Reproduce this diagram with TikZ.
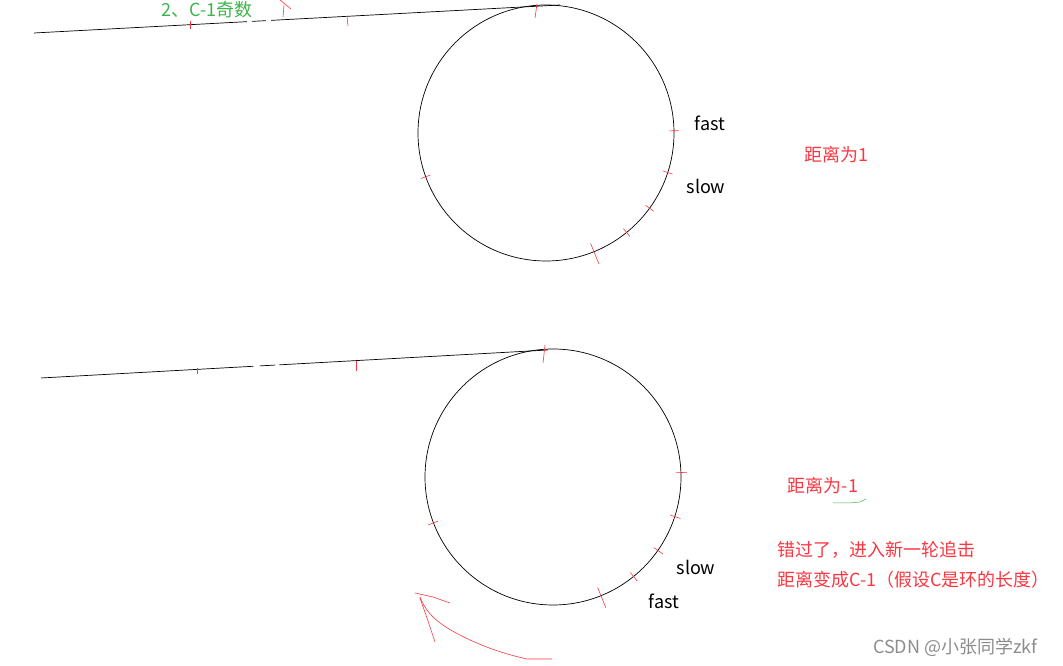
\documentclass[tikz,border=0pt]{standalone}
\usepackage{fontspec}
\setmainfont{Noto Sans CJK SC}
\usetikzlibrary{calc}
\tikzset{
  loop/.style={line width=0.7pt, black},
  redtick/.style={penred, line width=0.6pt},
  note/.style={font=\fontsize{18}{21}\selectfont, inner sep=0pt},
}
\begin{document}
\begin{tikzpicture}[x=1pt, y=1pt]
  \useasboundingbox (0,0) rectangle (1063,666);
  \definecolor{penred}  {RGB}{250,55,65}
  \definecolor{pengreen}{RGB}{60,180,75}

  % Upper picture: tail and loop
  \coordinate (c1) at (546,533);
  \coordinate (t1a) at (34,633);
  \coordinate (t1b) at (560,661);
  \draw[loop] (t1a) -- ($(t1a)!0.405!(t1b)$);
  \draw[loop] ($(t1a)!0.414!(t1b)$) -- ($(t1a)!0.441!(t1b)$);
  \draw[loop] ($(t1a)!0.451!(t1b)$) -- (t1b);
  \draw[loop] (c1) circle (128);
  % Ticks on the tail
  \draw[redtick] (190,637) -- (190,645);
  \draw[redtick] (348,640) -- (347,650);
  \draw[redtick] (537,662) -- (535,648);
  \draw[redtick] (280,666) -- (291,657);
  \draw[redtick] (284,661) -- (283,649);
  % Ticks on the loop
  \foreach \a in {1,-18,-36,-51,200}
    \draw[redtick] (c1) ++(\a:123) -- ++(\a:10);
  \draw[redtick] (c1) ++(-68:119) -- ++(-68:22);

  \node[note, pengreen] (odd) at (207,656) {2、C-1奇数};
  \node[note] (fast1) at (710,543) {fast};
  \node[note] (slow1) at (706,480) {slow};
  \node[note, penred] (dist1) at (836,511) {距离为1};

  % Lower picture: tail and loop
  \coordinate (c2) at (553,189);
  \coordinate (t2a) at (41,288);
  \coordinate (t2b) at (548,316);
  \draw[loop] (t2a) -- ($(t2a)!0.419!(t2b)$);
  \draw[loop] ($(t2a)!0.431!(t2b)$) -- ($(t2a)!0.462!(t2b)$);
  \draw[loop] ($(t2a)!0.470!(t2b)$) -- (t2b);
  \draw[loop] (c2) circle (128);
  % Ticks on the tail
  \draw[redtick] (197,292) -- (197,298);
  \draw[redtick] (356,295) -- (356,305);
  \draw[redtick] (545,321) -- (543,303);
  % Ticks on the loop
  \foreach \a in {2,-18,-35,-51,201}
    \draw[redtick] (c2) ++(\a:123) -- ++(\a:11);
  \draw[redtick] (c2) ++(-68:119) -- ++(-68:22);

  \node[note] (slow2) at (696,99) {slow};
  \node[note] (fast2) at (664,65) {fast};
  \node[note, penred] (dist2) at (823,180) {距离为-1};
  \draw[pengreen, line width=0.5pt] (833,163) -- (850,163) -- (860,164) -- (866,167);
  \node[note, penred, anchor=west] (miss) at (777,116) {错过了，进入新一轮追击};
  \node[note, penred, anchor=west] (again) at (777,86) {距离变成C-1（假设C是环的长度）};

  % Hand drawn arrow
  \draw[redtick] (552,7) -- (527,7) .. controls (505,12) and (490,17) .. (470,26)
    .. controls (445,38) and (428,48) .. (420,69);
  \draw[redtick] (415,73) -- (433,69) -- (450,63);
  \draw[redtick] (420,68) -- (428,45) -- (435,24);

  \node[note, black!45, anchor=west] (wmark) at (873,19) {CSDN @小张同学zkf};
\end{tikzpicture}
\end{document}
